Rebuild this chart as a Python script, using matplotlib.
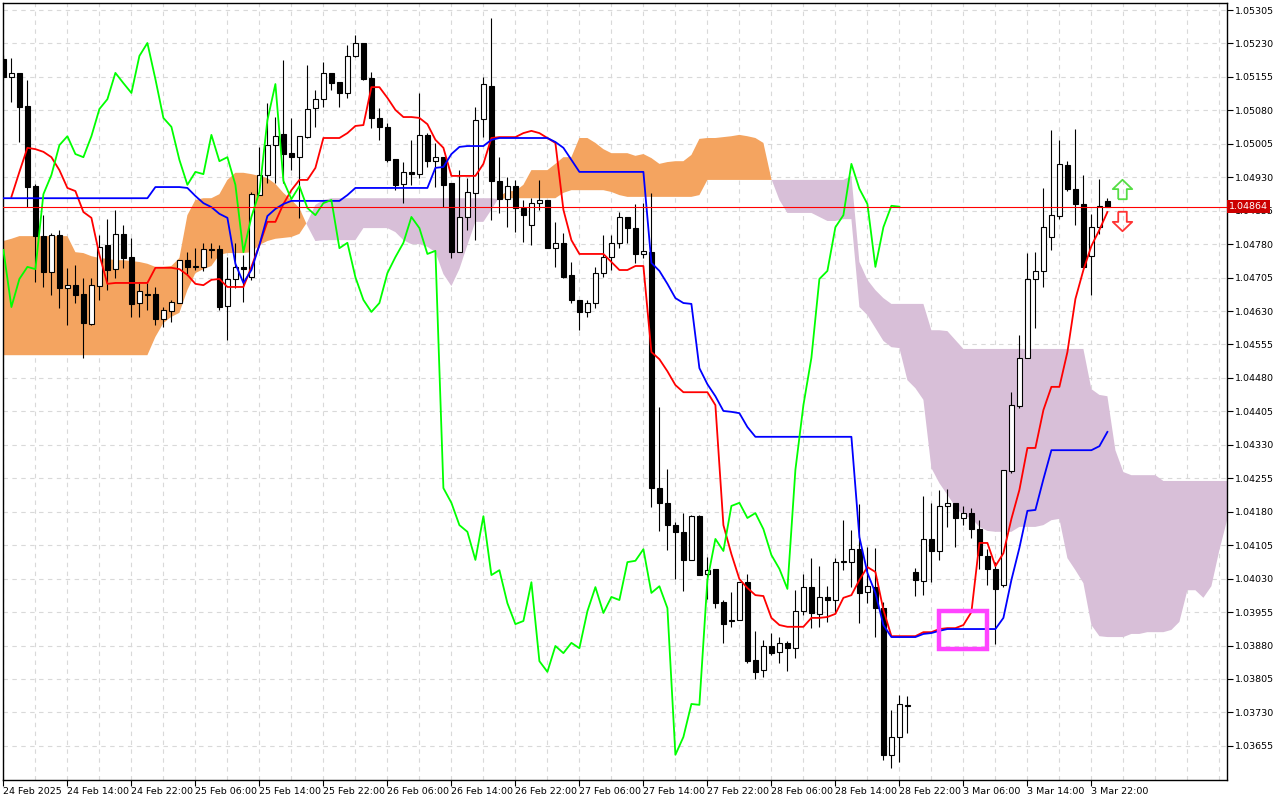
import numpy as np
import matplotlib
matplotlib.use('Agg')
import matplotlib.pyplot as plt
import matplotlib.transforms as mtransforms
from matplotlib.patches import Rectangle
from matplotlib.path import Path
from matplotlib.ticker import FormatStrFormatter, MultipleLocator

plt.rcParams['font.family'] = ['DejaVu Sans']

# EURUSD H1 with Ichimoku (9, 26, 52)
time_labels = ['24 Feb 2025', '24 Feb 14:00', '24 Feb 22:00', '25 Feb 06:00', '25 Feb 14:00',
               '25 Feb 22:00', '26 Feb 06:00', '26 Feb 14:00', '26 Feb 22:00', '27 Feb 06:00',
               '27 Feb 14:00', '27 Feb 22:00', '28 Feb 06:00', '28 Feb 14:00', '28 Feb 22:00',
               '3 Mar 06:00', '3 Mar 14:00', '3 Mar 22:00']

opens = [1.05195, 1.05155, 1.05164, 1.05090, 1.04910, 1.04798, 1.04718, 1.04800, 1.04682, 1.04688,
         1.04668, 1.04601, 1.04686, 1.04778, 1.04724, 1.04803, 1.04751, 1.04648, 1.04668, 1.04668,
         1.04612, 1.04630, 1.04648, 1.04744, 1.04729, 1.04729, 1.04769, 1.04769, 1.04641, 1.04702,
         1.04729, 1.04706, 1.04890, 1.04935, 1.05002, 1.05027, 1.04984, 1.04975, 1.05020, 1.05085,
         1.05105, 1.05164, 1.05144, 1.05119, 1.05202, 1.05231, 1.05153, 1.05063, 1.05043, 1.04971,
         1.04915, 1.04942, 1.04937, 1.05025, 1.04966, 1.04975, 1.04917, 1.04762, 1.04841, 1.04895,
         1.05061, 1.05135, 1.04922, 1.04881, 1.04910, 1.04861, 1.04823, 1.04872, 1.04879, 1.04771,
         1.04783, 1.04711, 1.04655, 1.04628, 1.04648, 1.04715, 1.04751, 1.04783, 1.04841, 1.04816,
         1.04758, 1.04762, 1.04233, 1.04200, 1.04150, 1.04135, 1.04072, 1.04170, 1.04040, 1.04052,
         1.03978, 1.03937, 1.03937, 1.04022, 1.03848, 1.03825, 1.03879, 1.03866, 1.03886, 1.03874,
         1.03957, 1.04011, 1.03951, 1.03989, 1.03982, 1.04067, 1.04067, 1.04096, 1.04000, 1.04011,
         1.03964, 1.03635, 1.03675, 1.03744, 1.04045, 1.04025, 1.04119, 1.04092, 1.04193, 1.04200,
         1.04166, 1.04177, 1.04141, 1.04081, 1.04052, 1.04016, 1.04271, 1.04417, 1.04525, 1.04702,
         1.04720, 1.04796, 1.04843, 1.04957, 1.04904, 1.04870, 1.04753, 1.04818, 1.04877]

highs = [1.05204, 1.05197, 1.05164, 1.05148, 1.04915, 1.04845, 1.04805, 1.04812, 1.04727, 1.04733,
         1.04704, 1.04704, 1.04800, 1.04836, 1.04857, 1.04823, 1.04794, 1.04693, 1.04693, 1.04684,
         1.04639, 1.04655, 1.04744, 1.04762, 1.04771, 1.04783, 1.04783, 1.04778, 1.04751, 1.04783,
         1.04756, 1.04897, 1.04998, 1.05096, 1.05065, 1.05193, 1.05063, 1.05022, 1.05182, 1.05126,
         1.05188, 1.05164, 1.05144, 1.05227, 1.05249, 1.05231, 1.05166, 1.05085, 1.05052, 1.04971,
         1.04964, 1.05014, 1.05119, 1.05029, 1.05007, 1.04975, 1.04917, 1.04946, 1.04928, 1.05088,
         1.05155, 1.05287, 1.04975, 1.04931, 1.04924, 1.04879, 1.04883, 1.04924, 1.04879, 1.04830,
         1.04805, 1.04740, 1.04655, 1.04655, 1.04729, 1.04800, 1.04800, 1.04852, 1.04841, 1.04870,
         1.04872, 1.04895, 1.04415, 1.04276, 1.04157, 1.04177, 1.04173, 1.04173, 1.04078, 1.04052,
         1.03982, 1.04000, 1.04022, 1.04040, 1.03913, 1.03892, 1.03908, 1.03899, 1.03890, 1.04004,
         1.04040, 1.04076, 1.04058, 1.04013, 1.04076, 1.04161, 1.04139, 1.04197, 1.04101, 1.04099,
         1.03978, 1.03735, 1.03769, 1.03767, 1.04054, 1.04215, 1.04200, 1.04229, 1.04231, 1.04200,
         1.04193, 1.04188, 1.04161, 1.04096, 1.04067, 1.04274, 1.04448, 1.04576, 1.04760, 1.04762,
         1.04906, 1.05036, 1.05014, 1.04966, 1.05038, 1.04935, 1.04848, 1.04926, 1.04883]

lows = [1.05148, 1.05099, 1.05009, 1.04863, 1.04695, 1.04684, 1.04666, 1.04637, 1.04599, 1.04648,
        1.04525, 1.04599, 1.04655, 1.04677, 1.04704, 1.04727, 1.04617, 1.04617, 1.04632, 1.04599,
        1.04594, 1.04605, 1.04648, 1.04711, 1.04722, 1.04720, 1.04749, 1.04632, 1.04565, 1.04682,
        1.04650, 1.04700, 1.04890, 1.04917, 1.04917, 1.04917, 1.04946, 1.04839, 1.05018, 1.05043,
        1.05088, 1.05126, 1.05088, 1.05108, 1.05200, 1.05148, 1.05040, 1.05014, 1.04964, 1.04901,
        1.04872, 1.04913, 1.04928, 1.04953, 1.04908, 1.04863, 1.04749, 1.04762, 1.04812, 1.04789,
        1.05020, 1.04834, 1.04850, 1.04818, 1.04807, 1.04785, 1.04778, 1.04857, 1.04771, 1.04729,
        1.04704, 1.04648, 1.04587, 1.04617, 1.04637, 1.04706, 1.04722, 1.04771, 1.04783, 1.04738,
        1.04749, 1.04191, 1.04137, 1.04094, 1.04029, 1.04002, 1.04072, 1.04038, 1.03984, 1.03964,
        1.03886, 1.03922, 1.03937, 1.03841, 1.03805, 1.03809, 1.03859, 1.03841, 1.03823, 1.03852,
        1.03948, 1.03919, 1.03922, 1.03933, 1.03953, 1.04049, 1.04011, 1.03931, 1.03975, 1.03899,
        1.03623, 1.03605, 1.03619, 1.03684, 1.03991, 1.03993, 1.04022, 1.04072, 1.04146, 1.04101,
        1.04150, 1.04121, 1.04052, 1.04016, 1.03883, 1.04011, 1.04267, 1.04413, 1.04525, 1.04592,
        1.04684, 1.04767, 1.04836, 1.04899, 1.04823, 1.04729, 1.04666, 1.04803, 1.04863]

closes = [1.05155, 1.05164, 1.05088, 1.04908, 1.04798, 1.04718, 1.04800, 1.04682, 1.04688, 1.04666,
          1.04603, 1.04688, 1.04774, 1.04722, 1.04803, 1.04749, 1.04646, 1.04675, 1.04666, 1.04612,
          1.04632, 1.04650, 1.04744, 1.04729, 1.04731, 1.04769, 1.04767, 1.04639, 1.04702, 1.04729,
          1.04724, 1.04892, 1.04935, 1.05002, 1.05022, 1.04982, 1.04975, 1.05022, 1.05083, 1.05105,
          1.05164, 1.05141, 1.05119, 1.05202, 1.05231, 1.05150, 1.05063, 1.05043, 1.04969, 1.04913,
          1.04942, 1.04937, 1.05025, 1.04966, 1.04975, 1.04913, 1.04762, 1.04841, 1.04897, 1.05058,
          1.05139, 1.04922, 1.04881, 1.04910, 1.04861, 1.04845, 1.04872, 1.04879, 1.04771, 1.04783,
          1.04706, 1.04655, 1.04628, 1.04648, 1.04715, 1.04751, 1.04783, 1.04841, 1.04816, 1.04758,
          1.04765, 1.04233, 1.04200, 1.04150, 1.04135, 1.04072, 1.04170, 1.04038, 1.04049, 1.03975,
          1.03928, 1.03935, 1.04022, 1.03845, 1.03821, 1.03879, 1.03863, 1.03886, 1.03874, 1.03957,
          1.04011, 1.03953, 1.03989, 1.03982, 1.04067, 1.04070, 1.04096, 1.03998, 1.04013, 1.03964,
          1.03635, 1.03675, 1.03749, 1.03747, 1.04027, 1.04119, 1.04092, 1.04193, 1.04200, 1.04166,
          1.04177, 1.04141, 1.04083, 1.04052, 1.04007, 1.04274, 1.04419, 1.04525, 1.04702, 1.04720,
          1.04818, 1.04845, 1.04960, 1.04904, 1.04870, 1.04729, 1.04818, 1.04866, 1.04864]

tenkan = [np.nan, 1.04886, 1.04942, 1.04996, 1.04993, 1.04987, 1.04975, 1.04946, 1.04906, 1.04899,
          1.04852, 1.04839, 1.04756, 1.04691, 1.04693, 1.04693, 1.04693, 1.04693, 1.04693, 1.04727,
          1.04727, 1.04727, 1.04724, 1.04711, 1.04691, 1.04688, 1.04700, 1.04702, 1.04684, 1.04684,
          1.04684, 1.04729, 1.04778, 1.04830, 1.04830, 1.04870, 1.04901, 1.04924, 1.04924, 1.04951,
          1.05018, 1.05018, 1.05018, 1.05029, 1.05045, 1.05047, 1.05132, 1.05132, 1.05108, 1.05081,
          1.05065, 1.05065, 1.05063, 1.05049, 1.05014, 1.04996, 1.04933, 1.04933, 1.04933, 1.04933,
          1.04960, 1.05018, 1.05020, 1.05020, 1.05020, 1.05029, 1.05034, 1.05029, 1.05018, 1.05007,
          1.04857, 1.04789, 1.04758, 1.04758, 1.04758, 1.04758, 1.04740, 1.04722, 1.04722, 1.04731,
          1.04731, 1.04538, 1.04522, 1.04495, 1.04464, 1.04448, 1.04448, 1.04448, 1.04448, 1.04419,
          1.04150, 1.04085, 1.04029, 1.04009, 1.03993, 1.03991, 1.03942, 1.03926, 1.03922, 1.03922,
          1.03922, 1.03942, 1.03942, 1.03944, 1.03951, 1.03987, 1.03993, 1.04027, 1.04056, 1.04045,
          1.03960, 1.03901, 1.03901, 1.03901, 1.03901, 1.03910, 1.03910, 1.03917, 1.03919, 1.03919,
          1.03926, 1.03955, 1.04110, 1.04110, 1.04058, 1.04087, 1.04164, 1.04229, 1.04323, 1.04323,
          1.04408, 1.04460, 1.04460, 1.04538, 1.04657, 1.04722, 1.04776, 1.04812, 1.04852]

kijun = ([1.04883] * 19 + [1.04908] * 4 +
         [1.04906, 1.04888, 1.04872, 1.04863, 1.04848, 1.04839, 1.04736, 1.04693, 1.04722, 1.04778,
          1.04843, 1.04859, 1.04870] +
         [1.04877] * 7 + [1.04890] + [1.04906] * 10 +
         [1.04951, 1.04953, 1.04982, 1.04998] + [1.05000] * 3 + [1.05014] + [1.05018] * 7 +
         [1.05009, 1.04996, 1.04969] + [1.04942] * 9 +
         [1.04738, 1.04720, 1.04691, 1.04659, 1.04648, 1.04646, 1.04502, 1.04466, 1.04439, 1.04406,
          1.04404, 1.04401, 1.04370] +
         [1.04348] * 13 + [1.04123, 1.04043, 1.03998, 1.03926] + [1.03899] * 4 +
         [1.03906, 1.03908, 1.03913] + [1.03917] * 7 +
         [1.03942, 1.04027, 1.04099, 1.04182, 1.04184, 1.04253] + [1.04318] * 6 + [1.04327, 1.04359])

# senkou spans, already shifted 26 bars forward
span_a = [1.04787, 1.04792, 1.04798, 1.04798, 1.04798, 1.04798, 1.04798, 1.04798, 1.04798, 1.04762,
          1.04760, 1.04753, 1.04749, 1.04747, 1.04744, 1.04744, 1.04742, 1.04740, 1.04736, 1.04729,
          1.04729, 1.04731, 1.04749, 1.04845, 1.04879, 1.04883, 1.04883, 1.04892, 1.04924, 1.04940,
          1.04940, 1.04937, 1.04933, 1.04928, 1.04915, 1.04895, 1.04879, 1.04861, 1.04821, 1.04787,
          1.04789, 1.04789, 1.04789, 1.04789, 1.04789, 1.04816, 1.04816, 1.04816, 1.04816, 1.04807,
          1.04789, 1.04780, 1.04780, 1.04774, 1.04762, 1.04713, 1.04686, 1.04724, 1.04778, 1.04830,
          1.04830, 1.04857, 1.04886, 1.04899, 1.04899, 1.04913, 1.04946, 1.04946, 1.04946, 1.04960,
          1.04975, 1.04975, 1.05018, 1.05018, 1.05007, 1.04993, 1.04984, 1.04984, 1.04984, 1.04978,
          1.04982, 1.04973, 1.04960, 1.04964, 1.04966, 1.04966, 1.04980, 1.05016, 1.05018, 1.05018,
          1.05020, 1.05022, 1.05025, 1.05022, 1.05018, 1.05007, 1.04926, 1.04879, 1.04850, 1.04850,
          1.04850, 1.04850, 1.04841, 1.04832, 1.04832, 1.04836, 1.04836, 1.04639, 1.04621, 1.04592,
          1.04563, 1.04549, 1.04547, 1.04475, 1.04457, 1.04431, 1.04278, 1.04244, 1.04218, 1.04191,
          1.04170, 1.04166, 1.04146, 1.04137, 1.04135, 1.04135, 1.04135, 1.04146, 1.04146, 1.04146,
          1.04150, 1.04161, 1.04164, 1.04076, 1.04049, 1.04020, 1.03926, 1.03901, 1.03899, 1.03899,
          1.03899, 1.03906, 1.03906, 1.03910, 1.03910, 1.03910, 1.03915, 1.03933, 1.04004, 1.04004,
          1.03987, 1.04013, 1.04094, 1.04164]

span_b = ([1.04531] * 19 +
          [1.04572, 1.04603, 1.04617, 1.04626, 1.04677, 1.04715, 1.04724, 1.04731, 1.04756, 1.04760,
           1.04760, 1.04760, 1.04762, 1.04778, 1.04787, 1.04792, 1.04794, 1.04796, 1.04803, 1.04830,
           1.04868, 1.04879] +
          [1.04883] * 21 + [1.04881] + [1.04883] * 7 + [1.04895] + [1.04901] * 5 +
          [1.04897, 1.04890] + [1.04886] * 9 + [1.04890] + [1.04924] * 18 +
          [1.04933, 1.04740, 1.04700, 1.04677, 1.04659] + [1.04646] * 5 +
          [1.04587, 1.04587, 1.04585, 1.04565] + [1.04545] * 16 +
          [1.04455, 1.04442, 1.04439, 1.04318, 1.04269] + [1.04262] * 4 + [1.04249] * 9)

o = np.array(opens)
h = np.array(highs)
l = np.array(lows)
c = np.array(closes)
x = np.arange(len(c))
sa = np.array(span_a)
sb = np.array(span_b)
xs = np.arange(len(sa))
chikou = c[26:]  # lagging span

fig = plt.figure(figsize=(12.8, 8), dpi=100)
ax = fig.add_axes([3 / 1280, 20 / 800, 1224 / 1280, 777 / 800])

# cloud
ax.fill_between(xs, sa, sb, where=sa >= sb, interpolate=True, color='#F4A460', lw=0, zorder=1)
ax.fill_between(xs, sa, sb, where=sa < sb, interpolate=True, color='#D8BFD8', lw=0, zorder=1)

# candles
up = c >= o
lo = np.minimum(o, c)
hgt = np.abs(c - o)
ax.vlines(x, l, h, color='black', lw=0.8, zorder=3)
ax.bar(x[up], hgt[up], bottom=lo[up], width=0.65, color='white', edgecolor='black', lw=0.8, zorder=4)
ax.bar(x[~up], hgt[~up], bottom=lo[~up], width=0.65, color='black', edgecolor='black', lw=0.8, zorder=4)

# ichimoku lines
ax.plot(x, tenkan, color='#ff0000', lw=1.3, zorder=5)
ax.plot(x, kijun, color='#0000ff', lw=1.3, zorder=5)
ax.plot(np.arange(len(chikou)), chikou, color='#00ff00', lw=1.3, zorder=5)

# current price line + label
last = c[-1]
ax.axhline(last, color='#ff0000', lw=0.8, zorder=6)
trans = mtransforms.blended_transform_factory(ax.transAxes, ax.transData)
ax.text(1.0015, last, f'{last:.5f}', transform=trans, color='white', fontsize=6.8,
        va='center', ha='left', clip_on=False, zorder=10,
        bbox=dict(boxstyle='square,pad=0.18', fc='#cc0000', ec='none'))

# signal arrows (hollow block arrows)
up_arrow = Path([(-0.22, -0.5), (0.22, -0.5), (0.22, 0.02), (0.5, 0.02), (0.0, 0.5),
                 (-0.5, 0.02), (-0.22, 0.02), (-0.22, -0.5)])
down_arrow = Path([(px, -py) for px, py in up_arrow.vertices])
ax.plot([139.8], [1.04903], marker=up_arrow, markersize=14, mfc='none', mec='#55dd44', mew=1.3, zorder=7)
ax.plot([139.8], [1.04832], marker=down_arrow, markersize=14, mfc='none', mec='#ff3333', mew=1.3, zorder=7)

# highlight box
ax.add_patch(Rectangle((116.95, 1.03872), 6.0, 0.00086, fill=False, ec='#ff44ff', lw=3.2, zorder=7))

ax.set_xlim(-0.05, 152.95)
ax.set_ylim(1.035785, 1.053207)

yticks = 1.03655 + 0.00075 * np.arange(23)
ax.yaxis.tick_right()
ax.set_yticks(yticks)
ax.yaxis.set_major_formatter(FormatStrFormatter('%.5f'))
ax.set_xticks(np.arange(0, 137, 8))
ax.set_xticklabels(time_labels)
for lbl in ax.get_xticklabels():
    lbl.set_horizontalalignment('left')
ax.xaxis.set_minor_locator(MultipleLocator(4))

ax.tick_params(axis='y', length=4, width=0.8, pad=2, labelsize=6.8)
ax.tick_params(axis='x', length=4, width=0.8, pad=1, labelsize=6.8)
ax.tick_params(which='minor', length=0)
ax.grid(True, axis='x', which='both', color='#d9d9d9', ls=(0, (4, 4)), lw=0.8, zorder=0)
ax.grid(True, axis='y', which='major', color='#d9d9d9', ls=(0, (4, 4)), lw=0.8, zorder=0)
ax.set_axisbelow(True)
for s in ax.spines.values():
    s.set_linewidth(1)
    s.set_color('black')

fig.savefig('out.png', dpi=100, facecolor='white')
